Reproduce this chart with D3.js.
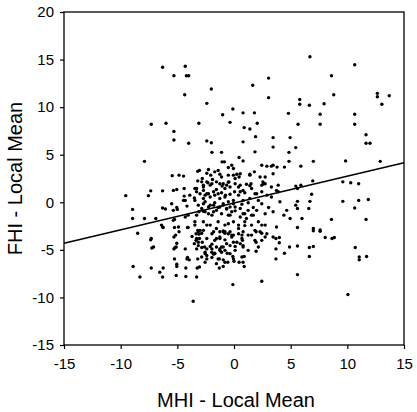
<!DOCTYPE html>
<html>
<head>
<meta charset="utf-8">
<script src="https://cdn.jsdelivr.net/npm/d3@7"></script>
<style>
  body { margin: 0; background: #fff; }
  svg { display: block; }
  .tick text { font-family: "Liberation Sans", Arial, sans-serif; font-size: 15px; fill: #000; }
  .tick line { stroke: #000; stroke-width: 1.2; }
</style>
</head>
<body>
<div id="chart"></div>
<script>
// axis ticks
var xTicks = [-15, -10, -5, 0, 5, 10, 15];
var yTicks = [-15, -10, -5, 0, 5, 10, 15, 20];

// fitted line end points (x, y)
var fitX = [-15, 15];
var fitY = [-4.3, 4.15];

// MHI - local mean
var mhi = [
  -6.3,-5.3,-4.3,-4.0,-4.2,-4.35,-2.0,-2.4,-1.0,-7.3,-6.0,-3.1,-0.35,
  6.7,10.65,3.05,8.6,1.65,3.05,8.8,5.8,5.8,6.65,7.95,12.65,12.65,13.7,13.05,
  -0.1,0.8,1.8,4.8,7.6,10.65,2.05,5.65,7.6,10.65,
  11.65,11.65,12.0,4.95,5.45,4.85,4.85,4.45,5.9,7.0,9.85,12.9,-7.9,
  -5.3,-5.3,-4.0,-2.4,-2.0,-1.95,-1.1,0.9,1.4,1.9,0.8,3.45,3.45,1.85,0.45,0.8,-1.05,-0.85,
  -0.2,-0.5,-0.05,2.45,2.9,3.45,3.8,3.3,
  -5.45,-4.85,-4.45,-3.2,-3.05,-2.8,
  -2.25,-2.4,-2.05,-1.4,-1.25,-1.7,-1.1,
  0.25,0.45,0.1,1.4,1.8,2.75,2.55,3.45,-0.5,-0.05,0.55,1.4,2.3,
  -3.2,-2.85,-2.3,-2.1,-1.9,-1.25,-1.05,-0.65,-0.45,0.55,1.1,1.5,2.45,2.75,3.3,2.6,1.4,1.55,3.9,3.75,
  -2.4,-1.95,-1.55,-2.7,-0.95,-0.5,-0.35,-0.8,0.1,0.4,0.55,0.8,
  6.95,5.45,5.6,5.9,9.6,10.3,11.0,6.85,
  -9.55,-7.35,-7.55,-6.3,-8.95,-6.3,-6.05,-8.95,-7.9,-6.9,-6.3,-8.5,-7.3,
  -5.35,-5.05,-4.4,-4.4,-4.3,-3.3,-3.5,-3.0,-2.7,
  -5.35,-5.0,-5.25,-4.3,-4.05,-3.3,-3.1,-2.7,
  -6.4,-6.25,-5.25,-4.1,-3.45,-5.15,-4.85,-3.2,-3.1,-3.3,-3.15,-7.35,-7.1,-7.25,-5.2,-4.3,-3.5,-2.8,
  -5.25,-4.15,-3.95,-4.1,-3.2,-2.85,-5.05,
  -2.55,-1.95,-1.3,-0.1,0.9,-0.55,0.0,0.45,0.9,3.7,6.65,
  -8.9,-7.3,-6.55,-6.25,-5.05,-4.25,-3.25,-3.05,-1.3,-0.95,
  -8.3,-6.3,-5.1,-4.25,-3.3,-0.1,2.45,5.6,-3.6,10.05,
  11.05,11.05,11.7,4.45,1.95,
  10.7,8.05,8.65,8.85,7.6,7.0,6.65,7.0,
  5.6,4.9,3.7,3.7,4.0,4.0,2.45,1.95,1.95,
  -1.1,-1.1,-0.6,-0.35,0.1,0.55,0.8,0.75,0.7,0.4,-0.2,-0.05,-0.5,-0.35,0.8,-0.95,
  -5.3,-5.05,-5.3,-5.1,-3.35,-3.15,-3.3,-3.7,-3.35,-3.05,-2.85,-2.6,-2.4,-2.55,-2.4,-1.95,-1.8,-1.7,-2.1,-1.95,-1.55,-0.95,-1.25,-0.95,-0.8,-1.55,-1.25,-0.8,-1.8,-1.25,-0.8,-3.15,-2.85,
  -5.5,-5.05,-4.45,-4.15,-3.45,-3.15,-2.85,-2.55,-2.1,-1.7,-1.4,-1.8,-2.25,-0.95,-0.65,-0.35,-0.05,0.1,-0.35,0.7,1.25,1.7,0.95,1.55,2.45,3.05,2.75,3.45,4.05,
  -3.9,-3.45,-3.3,-2.7,-2.55,-2.25,-1.8,-1.7,-1.55,-1.1,-0.75,-0.35,0.05,0.4,0.95,2.0,2.9,3.3,3.9,
  -2.4,-2.7,-2.1,-1.4,-1.25,-0.8,-0.05,-0.5,0.8,1.4,1.85,2.45,2.15,
  -2.7,-2.25,-2.55,-1.8,-1.55,-1.95,-1.25,-0.95,-0.65,-1.1,-0.5,-0.2,0.1,0.55,0.8,1.25,1.7,2.0,0.55,1.1,
  -2.7,-2.1,-1.4,-0.8,-0.05,0.4,0.95,1.55,2.15,2.75,
  -5.35,-4.9,-4.05,-3.45,-3.0,-2.4,-1.95,-1.55,-0.95,-0.5,-0.2,0.4,0.95,1.25,1.85,2.45,2.9,3.45,3.75,
  -2.7,-2.4,-2.55,-2.4,-1.95,-1.7,-1.7,-1.25,-1.25,-1.4,-0.8,-0.65,-0.35,-0.05,0.25,0.1,-0.05,0.7,0.8,0.7,1.55,1.85,2.3,2.45,2.15,2.75,1.25,0.8,-0.8,-1.55,
  5.6,5.45,5.6,6.7,6.6,9.6,11.0,11.85,10.65,4.65,4.4,4.95,6.0,8.6,11.65,5.6,7.0,7.6
];

// FHI - local mean
var fhi = [
  14.2,13.3,14.3,13.3,13.3,11.3,11.9,10.4,9.2,8.2,8.3,8.3,8.4,
  15.3,14.45,13.05,13.3,12.3,11.0,11.3,10.8,10.3,10.2,10.35,11.45,11.1,11.2,10.3,
  9.8,9.4,9.4,9.35,9.25,9.25,8.3,8.2,8.2,8.2,
  7.1,6.2,6.2,6.8,5.75,5.25,4.3,3.7,3.8,4.3,4.35,4.3,4.3,
  7.45,6.55,6.2,6.45,6.25,5.25,5.25,7.85,7.7,6.9,6.35,6.8,5.8,5.3,4.7,4.35,4.25,4.25,
  3.9,3.65,3.55,3.9,3.8,3.9,3.7,3.8,
  2.8,2.85,2.75,3.25,3.35,2.5,
  3.45,3.05,2.85,3.35,2.95,3.2,2.65,
  2.95,2.65,2.5,2.95,3.2,2.65,2.15,3.0,2.85,2.85,3.0,2.85,2.65,
  2.25,2.15,2.05,1.8,2.4,1.95,1.7,1.8,2.15,1.8,1.9,1.95,1.8,1.95,1.6,1.95,1.75,1.45,1.8,1.25,
  2.15,1.95,2.15,1.6,1.95,2.1,1.6,1.45,1.95,1.6,1.1,1.25,
  2.25,1.7,1.45,1.8,2.15,2.05,1.95,0.85,
  0.7,1.2,0.7,1.2,-0.75,-0.6,-0.7,-1.7,-1.7,-1.7,-2.6,-3.25,-3.8,
  1.25,1.35,1.45,0.65,0.2,1.45,0.45,0.9,1.8,
  -0.85,-0.75,-1.8,-1.55,-1.35,-1.35,-1.0,-0.95,
  -2.4,-2.65,-2.65,-2.65,-2.4,-3.45,-3.1,-2.95,-3.35,-3.8,-4.2,-3.95,-4.7,-4.8,-4.75,-4.9,-4.35,-4.2,
  -5.95,-5.95,-6.05,-5.8,-5.95,-5.75,-6.5,
  -6.3,-5.8,-5.95,-5.7,-5.7,-6.3,-6.2,-6.3,-6.75,-5.95,-5.7,
  -6.75,-6.9,-7.35,-6.9,-6.75,-6.9,-6.9,-6.8,-6.9,-6.75,
  -7.85,-7.85,-7.7,-7.8,-7.85,-8.65,-8.3,-7.6,-10.4,-9.7,
  -5.75,-6.05,-5.7,-5.35,-5.15,
  -4.75,-3.7,-3.8,-3.7,-3.05,-3.0,-4.75,-4.65,
  -4.6,-4.7,-4.9,-3.8,-3.7,-4.25,-3.25,-3.1,-4.2,
  -4.7,-5.25,-5.35,-4.55,-4.65,-4.35,-4.55,-4.0,-3.45,-3.3,-3.65,-4.2,-3.3,-3.1,-3.1,-3.1,
  -3.65,-4.3,-4.9,-4.7,-4.0,-4.55,-4.9,-3.6,-3.3,-3.8,-4.75,-4.7,-4.9,-5.4,-5.6,-5.25,-5.45,-5.35,-4.65,-4.4,-4.7,-6.05,-4.9,-4.7,-5.05,-3.8,-3.65,-3.95,-3.1,-3.1,-3.25,-3.1,-3.25,
  -0.15,-0.55,0.2,-0.4,0.2,-0.3,-0.65,0.05,-0.3,-0.05,-0.55,-1.0,-1.2,-0.3,-0.65,-0.5,-0.15,-0.9,-1.35,-0.2,-0.05,-0.55,-1.2,-1.35,-0.15,-0.55,-1.2,-1.0,0.05,
  0.75,1.45,1.1,1.25,0.75,0.9,1.1,0.75,1.35,1.0,0.75,0.85,1.1,0.75,1.0,0.9,0.75,0.55,1.1,
  0.9,0.4,0.55,0.9,0.4,0.55,0.2,0.05,0.2,0.4,0.9,1.1,0.2,
  -0.15,-0.5,-1.0,-0.3,-0.85,-1.35,-0.5,-0.15,-0.7,-1.2,-1.35,-1.0,-0.5,-0.65,-1.2,-0.85,-1.35,-0.85,-1.55,-1.7,
  -2.05,-2.4,-2.05,-2.4,-2.05,-2.4,-2.05,-2.4,-2.05,-2.4,
  -1.9,-2.6,-2.65,-2.05,-2.95,-2.4,-3.3,-2.75,-3.0,-2.25,-3.45,-2.75,-2.45,-3.45,-2.95,-2.4,-3.3,-3.65,-2.6,
  -2.95,-3.8,-5.25,-5.95,-4.9,-4.0,-5.4,-3.8,-5.05,-5.95,-3.1,-4.35,-5.4,-3.45,-4.2,-5.05,-5.95,-3.8,-4.7,-5.75,-3.45,-4.0,-3.1,-4.0,-4.7,-3.65,-5.05,-6.3,-6.3,-6.45,
  0.1,-0.3,-0.65,0.1,-0.65,0.1,0.2,0.3,-0.6,-0.85,-1.35,-1.7,-1.7,-1.8,-1.8,-2.65,-2.75,-2.9
];

var W = 417, H = 412;
var margin = { top: 12, right: 13, bottom: 67, left: 64 };
var w = W - margin.left - margin.right;
var h = H - margin.top - margin.bottom;

// plain hyphen for negative tick labels
var fmt = function(d) { return String(d); };

var svg = d3.select("#chart")
    .append("svg")
    .attr("width", W)
    .attr("height", H);

var g = svg.append("g")
    .attr("transform", "translate(" + margin.left + "," + margin.top + ")");

var x = d3.scaleLinear().domain([-15, 15]).range([0, w]);
var y = d3.scaleLinear().domain([-15, 20]).range([h, 0]);

// frame
g.append("rect")
    .attr("x", 0)
    .attr("y", 0)
    .attr("width", w)
    .attr("height", h)
    .attr("fill", "none")
    .attr("stroke", "#000")
    .attr("stroke-width", 1.3);

// axes
var xAxis = g.append("g")
    .attr("transform", "translate(0," + h + ")")
    .call(d3.axisBottom(x).tickValues(xTicks).tickFormat(fmt).tickSize(4).tickSizeOuter(0).tickPadding(9));
xAxis.select(".domain").remove();

var yAxis = g.append("g")
    .call(d3.axisLeft(y).tickValues(yTicks).tickFormat(fmt).tickSize(4).tickSizeOuter(0).tickPadding(6));
yAxis.select(".domain").remove();

// points
var pts = d3.zip(mhi, fhi);
g.selectAll("circle.pt")
    .data(pts)
    .enter()
    .append("circle")
    .attr("class", "pt")
    .attr("cx", function(d) { return x(d[0]); })
    .attr("cy", function(d) { return y(d[1]); })
    .attr("r", 1.7)
    .attr("fill", "#000");

// regression line
g.append("path")
    .datum(d3.zip(fitX, fitY))
    .attr("d", d3.line().x(function(d) { return x(d[0]); }).y(function(d) { return y(d[1]); }))
    .attr("fill", "none")
    .attr("stroke", "#000")
    .attr("stroke-width", 1.6);

// axis titles
svg.append("text")
    .attr("x", margin.left + w / 2 + 2)
    .attr("y", 407)
    .attr("text-anchor", "middle")
    .style("font-family", "'Liberation Sans', Arial, sans-serif")
    .style("font-size", "20px")
    .text("MHI - Local Mean");

svg.append("text")
    .attr("transform", "translate(22," + (margin.top + h / 2) + ") rotate(-90)")
    .attr("text-anchor", "middle")
    .style("font-family", "'Liberation Sans', Arial, sans-serif")
    .style("font-size", "20px")
    .text("FHI - Local Mean");
</script>
</body>
</html>
